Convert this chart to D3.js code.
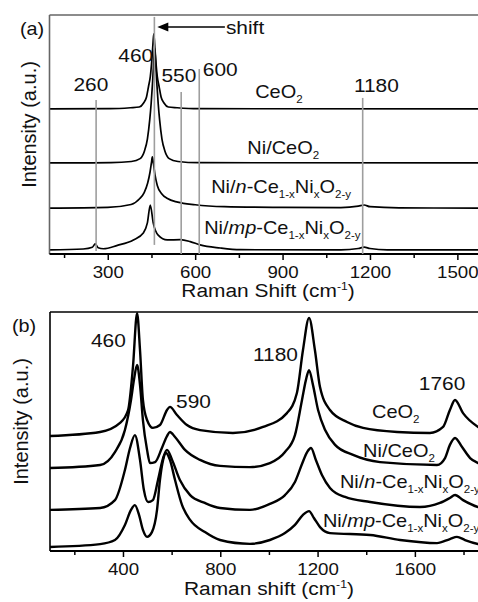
<!DOCTYPE html>
<html>
<head>
<meta charset="utf-8">
<script src="https://cdn.jsdelivr.net/npm/d3@7"></script>
<style>
  body { margin: 0; background: #fff; }
  svg { display: block; font-family: "Liberation Sans", Arial, sans-serif; }
</style>
</head>
<body>
<div id="chart"></div>
<script>
// ---- data (intensities are offset a.u.) ----
const sampleNames = ["CeO2", "Ni/CeO2", "Ni/n-Ce1-xNixO2-y", "Ni/mp-Ce1-xNixO2-y"]

// panel (a)  [Raman shift cm-1, intensity]
const ceo2A = [[100,60.7],[308,60.8],[378,61.2],[408,61.5],[423,63.2],[433,65.7],[440,70.2],[446,74.2],[451,80.7],[455,87.7],[458,92.1],
  [461,87.7],[465,80.7],[470,74.2],[476,70.2],[483,65.7],[493,63.2],[508,61.5],[538,61.2],[608,60.8],[1600,60.7]]
const niCeo2A = [[100,38.1],[311,38.2],[381,38.7],[411,39.9],[426,43.1],[436,48.1],[444,56.1],[449,63.1],[454,72.1],[458,81.1],[461,86.0],
  [464,81.1],[468,72.1],[473,63.1],[478,56.1],[486,48.1],[496,43.1],[511,39.9],[541,38.7],[611,38.2],[1600,38.1]]
const niNA = [[100,19.2],[300,19.5],[380,20.7],[410,23.2],[425,25.7],[437,29.7],[445,34.2],[450,38.2],[453,40.6],[457,37.7],[462,33.2],
  [470,28.7],[485,25.2],[505,23.2],[540,21.7],[600,20.6],[700,19.8],[900,19.5],[1100,19.4],[1160,20.0],[1180,20.5],[1200,19.8],[1300,19.3],[1600,19.2]]
const niMpA = [[100,1.7],[216,2.1],[247,2.8],[257,4.2],[267,2.6],[285,2.2],[333,3.6],[388,5.9],[422,8.8],[436,13],[446,20.5],[456,13],
  [473,7.9],[504,5.9],[549,6.0],[583,5.2],[617,3.8],[686,2.5],[755,1.8],[1100,1.7],[1160,2.3],[1180,2.9],[1200,2.3],[1260,1.7],[1600,1.7]]

// panel (b)
const ceo2B = [[100,48.1],[306,49.8],[388,53.6],[421,59.0],[441,77.0],[458,99.5],[470,84.1],[482,63.2],[499,54.8],[523,51.5],[552,52.7],
  [581,59.0],[593,60.3],[622,56.9],[663,52.7],[717,50.6],[852,49.4],[976,51.9],[1074,57.7],[1115,66.1],[1140,84.1],[1165,97.5],[1189,84.1],
  [1210,68.6],[1251,59.0],[1321,54.0],[1387,51.5],[1527,49.8],[1662,49.4],[1716,51.9],[1744,59.0],[1765,63.2],[1798,57.7],[1860,51.9],[1900,49.8]]
const niCeo2B = [[100,34.7],[306,36.0],[367,41.4],[408,50.6],[433,63.2],[445,71.5],[458,77.8],[470,69.5],[482,54.8],[499,42.3],[511,36.8],
  [532,37.2],[560,43.1],[581,48.1],[593,49.8],[614,47.7],[655,42.3],[717,38.1],[799,35.6],[922,35.1],[1004,36.8],[1066,41.4],[1107,48.5],
  [1136,63.2],[1152,71.5],[1165,75.7],[1181,69.5],[1202,59.0],[1231,50.6],[1272,44.4],[1346,40.2],[1457,37.2],[1691,36.0],[1724,38.9],
  [1744,44.4],[1765,47.3],[1794,43.5],[1827,38.9],[1860,36.8],[1900,35.6]]
const niNB = [[100,17.2],[306,18.0],[367,21.3],[408,33.9],[429,43.1],[449,48.5],[470,38.1],[486,25.5],[503,20.5],[523,21.3],[544,29.7],
  [565,38.9],[581,42.3],[602,38.1],[634,29.7],[676,23.4],[737,20.1],[799,18.0],[922,17.2],[1004,19.7],[1066,23.4],[1107,28.9],[1136,36.4],
  [1157,41.4],[1173,43.1],[1193,38.1],[1218,31.8],[1251,26.4],[1313,22.6],[1416,20.5],[1621,18.4],[1703,20.1],[1744,22.2],[1765,23.4],
  [1798,21.3],[1860,18.4],[1900,17.6]]
const niMpB = [[100,1.7],[306,2.9],[367,4.6],[408,10.9],[433,17.2],[449,19.2],[466,15.1],[482,8.8],[499,5.9],[519,7.9],[540,17.2],
  [552,29.7],[565,38.1],[577,41.0],[593,38.1],[614,29.7],[643,19.2],[676,13.0],[737,7.9],[799,4.6],[922,3.0],[1004,4.6],[1066,7.5],
  [1107,10.9],[1140,15.1],[1165,16.7],[1185,13.8],[1210,10.0],[1251,7.5],[1416,6.7],[1539,4.6],[1691,3.3],[1744,5.0],[1773,5.9],
  [1806,4.6],[1860,2.9],[1900,2.1]]

// axis ticks
const majorA = [300, 600, 900, 1200, 1500]
const minorA = [150, 450, 750, 1050, 1350]
const majorB = [400, 800, 1200, 1600]
const minorB = [200, 600, 1000, 1400, 1800]

// reference lines in (a)
const refShiftA = [260, 460, 552, 614, 1175]
const refLabelA = ["260", "460", "550", "600", "1180"]
const refTopA = [64.4, 99.2, 67.8, 77.4, 65.3]
const refBottomA = [1.3, 3.8, 0, 0, 0]

// peak labels in (b)
const peakLabelB = ["460", "590", "1180", "1760"]

// ---- drawing ----
const W = 478, H = 602
const HS = 1.1  // the figure's text is a little wide

const svg = d3.select("#chart").append("svg").attr("width", W).attr("height", H)

// labels with sub/superscripts: parts = [[text, kind]]
const labelParts = [
  [["Ce"], ["O"], ["2", "sub"]],
  [["Ni/CeO"], ["2", "sub"]],
  [["Ni/"], ["n", "i"], ["-Ce"], ["1-x", "sub"], ["Ni"], ["x", "sub"], ["O"], ["2-y", "sub"]],
  [["Ni/"], ["mp", "i"], ["-Ce"], ["1-x", "sub"], ["Ni"], ["x", "sub"], ["O"], ["2-y", "sub"]]
]

function addText(g, x, y, parts, size, anchor, hs) {
  const t = g.append("text")
    .attr("transform", `translate(${x},${y}) scale(${hs || HS},1)`)
    .attr("text-anchor", anchor || "start")
    .attr("fill", "#111")
    .style("font-size", size + "px")
  let shift = 0
  parts.forEach(([str, kind]) => {
    const ts = t.append("tspan").text(str)
    if (kind === "sub" || kind === "sup") {
      const d = kind === "sub" ? 5 : -7
      ts.attr("dy", d - shift).style("font-size", (size * 0.58) + "px")
      shift = d
    } else {
      if (shift) { ts.attr("dy", -shift); shift = 0 }
      if (kind === "i") ts.style("font-style", "italic")
    }
  })
  return t
}

function drawPanel(p) {
  const g = svg.append("g")
  const x = d3.scaleLinear().domain(p.domain).range(p.range)
  const y = d3.scaleLinear().domain([0, 100]).range([p.bottom, p.top])

  const line = d3.line().x(d => x(d[0])).y(d => y(d[1])).curve(d3.curveMonotoneX)

  g.selectAll(".spec").data(p.series).enter().append("path")
    .attr("class", "spec")
    .attr("d", line)
    .attr("fill", "none")
    .attr("stroke", "#000")
    .attr("stroke-width", p.lineWidth)
    .attr("stroke-linejoin", "round")

  // frame
  g.append("line").attr("x1", p.range[0]).attr("x2", p.range[1]).attr("y1", p.top).attr("y2", p.top)
    .attr("stroke", p.frameColor).attr("stroke-width", 1.6)
  g.append("line").attr("x1", p.range[0]).attr("x2", p.range[0]).attr("y1", p.top).attr("y2", p.bottom)
    .attr("stroke", p.frameColor).attr("stroke-width", 1.6)
  g.append("line").attr("x1", p.range[0]).attr("x2", p.range[1]).attr("y1", p.bottom).attr("y2", p.bottom)
    .attr("stroke", "#000").attr("stroke-width", 2)

  const ax = g.append("g").attr("transform", `translate(0,${p.bottom})`)
    .call(d3.axisBottom(x).tickValues(p.major).tickSize(6).tickPadding(6).tickFormat(d3.format("d")))
  ax.select(".domain").remove()
  ax.selectAll(".tick line").attr("stroke", "#000").attr("stroke-width", 1.5)
  ax.selectAll(".tick text").attr("transform", `scale(${HS},1)`)
    .style("font-size", "17px").style("font-family", "Liberation Sans, Arial, sans-serif").attr("fill", "#111")

  const axm = g.append("g").attr("transform", `translate(0,${p.bottom})`)
    .call(d3.axisBottom(x).tickValues(p.minor).tickSize(4).tickFormat(""))
  axm.select(".domain").remove()
  axm.selectAll(".tick line").attr("stroke", "#000").attr("stroke-width", 1.5)

  // titles
  addText(g, (p.range[0] + p.range[1]) / 2, p.bottom + p.titleGap,
    [[p.xTitle], ["-1", "sup"], [")"]], 19, "middle")
  g.append("text")
    .attr("transform", `translate(${p.yTitleX},${(p.top + p.bottom) / 2 - 10}) rotate(-90)`)
    .attr("text-anchor", "middle")
    .attr("fill", "#111")
    .style("font-size", "20px")
    .text("Intensity (a.u.)")
  addText(g, p.tagX, p.tagY, [[p.tag]], 18, "start")

  // sample labels
  p.sampleLabels.forEach((pos, i) => {
    addText(g, x(pos[0]), y(pos[1]), labelParts[i], 19, "start", 1.05)
  })

  return { g, x, y }
}

// (a)
const A = drawPanel({
  top: 15, bottom: 254, domain: [100, 1600], range: [49.5, 486.5],
  series: [ceo2A, niCeo2A, niNA, niMpA], lineWidth: 1.7, frameColor: "#666",
  major: majorA, minor: minorA, xTitle: "Raman Shift (cm", titleGap: 43,
  yTitleX: 36, tag: "(a)", tagX: 20, tagY: 34.5,
  sampleLabels: [[806, 65.3], [779, 41.8], [655, 25.5], [631, 8.4]]
})

// gray guide lines + labels
const refLabelPos = [[242, 68.4], [396, 80.4], [544, 72.1], [686, 74.5], [1222, 67.9]]
A.g.selectAll(".ref").data(refShiftA).enter().append("line")
  .attr("class", "ref")
  .attr("x1", d => A.x(d)).attr("x2", d => A.x(d))
  .attr("y1", (d, i) => A.y(refTopA[i])).attr("y2", (d, i) => A.y(refBottomA[i]))
  .attr("stroke", "#9e9e9e").attr("stroke-width", 1.6)
refLabelA.forEach((t, i) => {
  addText(A.g, A.x(refLabelPos[i][0]), A.y(refLabelPos[i][1]), [[t]], 19, "middle")
})

// shift arrow
const arrowTip = 470, arrowTail = 702, arrowLevel = 95
const ay = A.y(arrowLevel)
A.g.append("line").attr("x1", A.x(arrowTip) + 8).attr("x2", A.x(arrowTail)).attr("y1", ay).attr("y2", ay)
  .attr("stroke", "#000").attr("stroke-width", 1.6)
A.g.append("path")
  .attr("d", `M${A.x(arrowTip)},${ay} l11,-4.5 l0,9 z`)
  .attr("fill", "#000")
addText(A.g, A.x(arrowTail) + 1, ay + 7, [["shift"]], 19, "start")

// (b)
const B = drawPanel({
  top: 312, bottom: 551, domain: [100, 1900], range: [50, 487.85],
  series: [ceo2B, niCeo2B, niNB, niMpB], lineWidth: 2.4, frameColor: "#000",
  major: majorB, minor: minorB, xTitle: "Raman shift (cm", titleGap: 44,
  yTitleX: 28, tag: "(b)", tagX: 12, tagY: 331.5,
  sampleLabels: [[1424, 55.6], [1387, 39.3], [1292, 26.4], [1222, 10.0]]
})
const peakLabelPos = [[340, 85.4], [690, 59.8], [1027, 79.5], [1712, 67.4]]
peakLabelB.forEach((t, i) => {
  addText(B.g, B.x(peakLabelPos[i][0]), B.y(peakLabelPos[i][1]), [[t]], 19, "middle")
})
</script>
</body>
</html>
